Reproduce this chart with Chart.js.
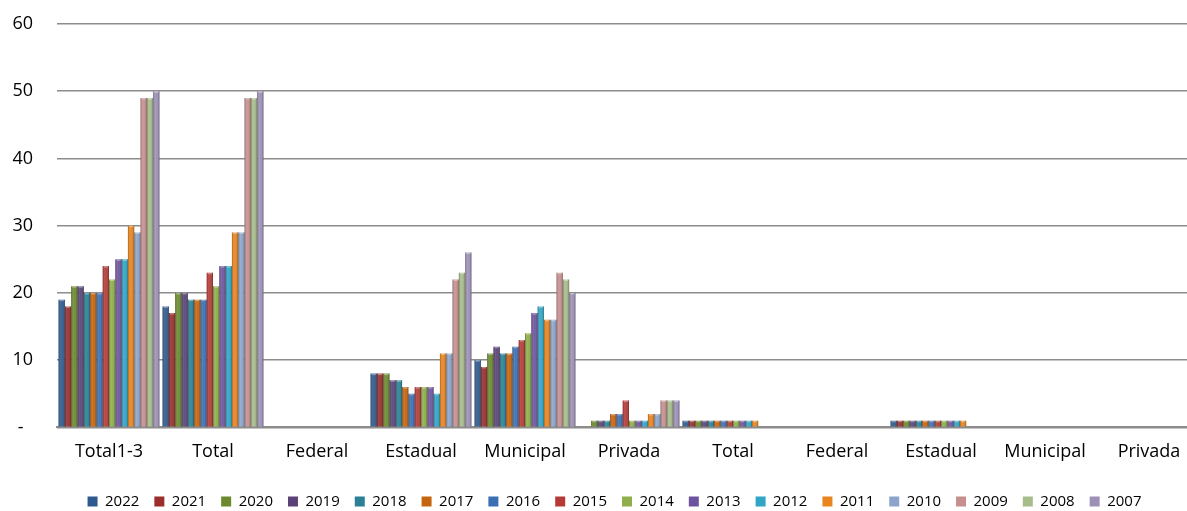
<!DOCTYPE html>
<html>
<head>
<meta charset="utf-8">
<script src="https://cdn.jsdelivr.net/npm/chart.js@4.4.1/dist/chart.umd.min.js"></script>
<style>
  html, body { margin: 0; padding: 0; background: #ffffff; overflow: hidden; }
  #wrap { width: 1201px; height: 511px; position: relative; }
</style>
</head>
<body>
<div id="wrap"><canvas id="c" width="1201" height="511"></canvas></div>
<script>
const categories = ["Total1-3", "Total", "Federal", "Estadual", "Municipal", "Privada", "Total", "Federal", "Estadual", "Municipal", "Privada"];
const seriesNames = ["2022", "2021", "2020", "2019", "2018", "2017", "2016", "2015", "2014", "2013", "2012", "2011", "2010", "2009", "2008", "2007"];
const seriesColors = ["#2d5a8e", "#9b2d2a", "#6b8a2e", "#5a4278", "#2b8096", "#c6650f", "#3a6fb4", "#b53a36", "#8eaf49", "#6e549f", "#30a5c5", "#e8851f", "#8ca4cb", "#c68f8e", "#a7bd89", "#9d90b7"];

// values per series, in category order
const v2022 = [19, 18, 0, 8, 10, 0, 1, 0, 1, 0, 0];
const v2021 = [18, 17, 0, 8, 9, 0, 1, 0, 1, 0, 0];
const v2020 = [21, 20, 0, 8, 11, 1, 1, 0, 1, 0, 0];
const v2019 = [21, 20, 0, 7, 12, 1, 1, 0, 1, 0, 0];
const v2018 = [20, 19, 0, 7, 11, 1, 1, 0, 1, 0, 0];
const v2017 = [20, 19, 0, 6, 11, 2, 1, 0, 1, 0, 0];
const v2016 = [20, 19, 0, 5, 12, 2, 1, 0, 1, 0, 0];
const v2015 = [24, 23, 0, 6, 13, 4, 1, 0, 1, 0, 0];
const v2014 = [22, 21, 0, 6, 14, 1, 1, 0, 1, 0, 0];
const v2013 = [25, 24, 0, 6, 17, 1, 1, 0, 1, 0, 0];
const v2012 = [25, 24, 0, 5, 18, 1, 1, 0, 1, 0, 0];
const v2011 = [30, 29, 0, 11, 16, 2, 1, 0, 1, 0, 0];
const v2010 = [29, 29, 0, 11, 16, 2, 0, 0, 0, 0, 0];
const v2009 = [49, 49, 0, 22, 23, 4, 0, 0, 0, 0, 0];
const v2008 = [49, 49, 0, 23, 22, 4, 0, 0, 0, 0, 0];
const v2007 = [50, 50, 0, 26, 20, 4, 0, 0, 0, 0, 0];
const seriesValues = [v2022, v2021, v2020, v2019, v2018, v2017, v2016, v2015, v2014, v2013, v2012, v2011, v2010, v2009, v2008, v2007];

const yMax = 60;
const yStep = 10;
const zeroLabel = "-  ";

const FONT = "'Open Sans', Lato, 'Liberation Sans', sans-serif";

// cylinder-like shading laid over each bar the library drew
const shadePlugin = {
  id: 'shade',
  afterDatasetsDraw(chart) {
    const ctx = chart.ctx;
    chart.data.datasets.forEach((ds, di) => {
      const meta = chart.getDatasetMeta(di);
      meta.data.forEach(el => {
        const { x, y, base, width } = el.getProps(['x', 'y', 'base', 'width'], true);
        if (Math.abs(base - y) < 0.5) return;
        const l = x - width / 2, r = x + width / 2;
        const g = ctx.createLinearGradient(l, 0, r, 0);
        g.addColorStop(0, 'rgba(0,0,0,0.28)');
        g.addColorStop(0.35, 'rgba(255,255,255,0.12)');
        g.addColorStop(0.55, 'rgba(255,255,255,0.05)');
        g.addColorStop(1, 'rgba(0,0,0,0.35)');
        ctx.save();
        ctx.fillStyle = g;
        ctx.fillRect(l, y, width, base - y);
        ctx.fillStyle = 'rgba(255,255,255,0.35)';
        ctx.fillRect(l + 1, y, Math.max(width - 2, 0), 1.5);
        ctx.restore();
      });
    });
  }
};

// nudge the legend row so it sits where the reference has it
const legendNudge = {
  id: 'legendNudge',
  afterLayout(chart) {
    const lg = chart.legend;
    if (!lg) return;
    lg.left += 14; lg.right += 14;
    lg.top += 2; lg.bottom += 2;
  }
};

const datasets = seriesNames.map((name, i) => ({
  label: name,
  data: seriesValues[i],
  backgroundColor: seriesColors[i],
  borderWidth: 0,
  categoryPercentage: 0.97,
  barPercentage: 1.0
}));

new Chart(document.getElementById('c'), {
  type: 'bar',
  data: { labels: categories, datasets },
  plugins: [shadePlugin, legendNudge],
  options: {
    responsive: false,
    animation: false,
    events: [],
    layout: { padding: { left: 0, right: 0, top: 24, bottom: -6 } },
    plugins: {
      tooltip: { enabled: false },
      legend: {
        position: 'bottom',
        labels: {
          font: { family: FONT, size: 15 },
          color: '#000000',
          boxWidth: 10,
          boxHeight: 10,
          padding: 15
        }
      }
    },
    scales: {
      x: {
        grid: { display: false, drawTicks: false },
        border: { display: true, color: '#8c8c8c', width: 2 },
        ticks: { font: { family: FONT, size: 18 }, color: '#000000', padding: 14, maxRotation: 0, autoSkip: false }
      },
      y: {
        min: 0,
        max: yMax,
        afterFit(scale) { scale.width = 57; scale.paddingTop = 0; scale.paddingBottom = 0; },
        grid: { color: '#8c8c8c', lineWidth: 1.6, drawTicks: false },
        border: { display: false },
        ticks: {
          stepSize: yStep,
          padding: 24,
          font: { family: FONT, size: 18 },
          color: '#000000',
          callback: (v) => v === 0 ? zeroLabel : String(v)
        }
      }
    }
  }
});
</script>
</body>
</html>
